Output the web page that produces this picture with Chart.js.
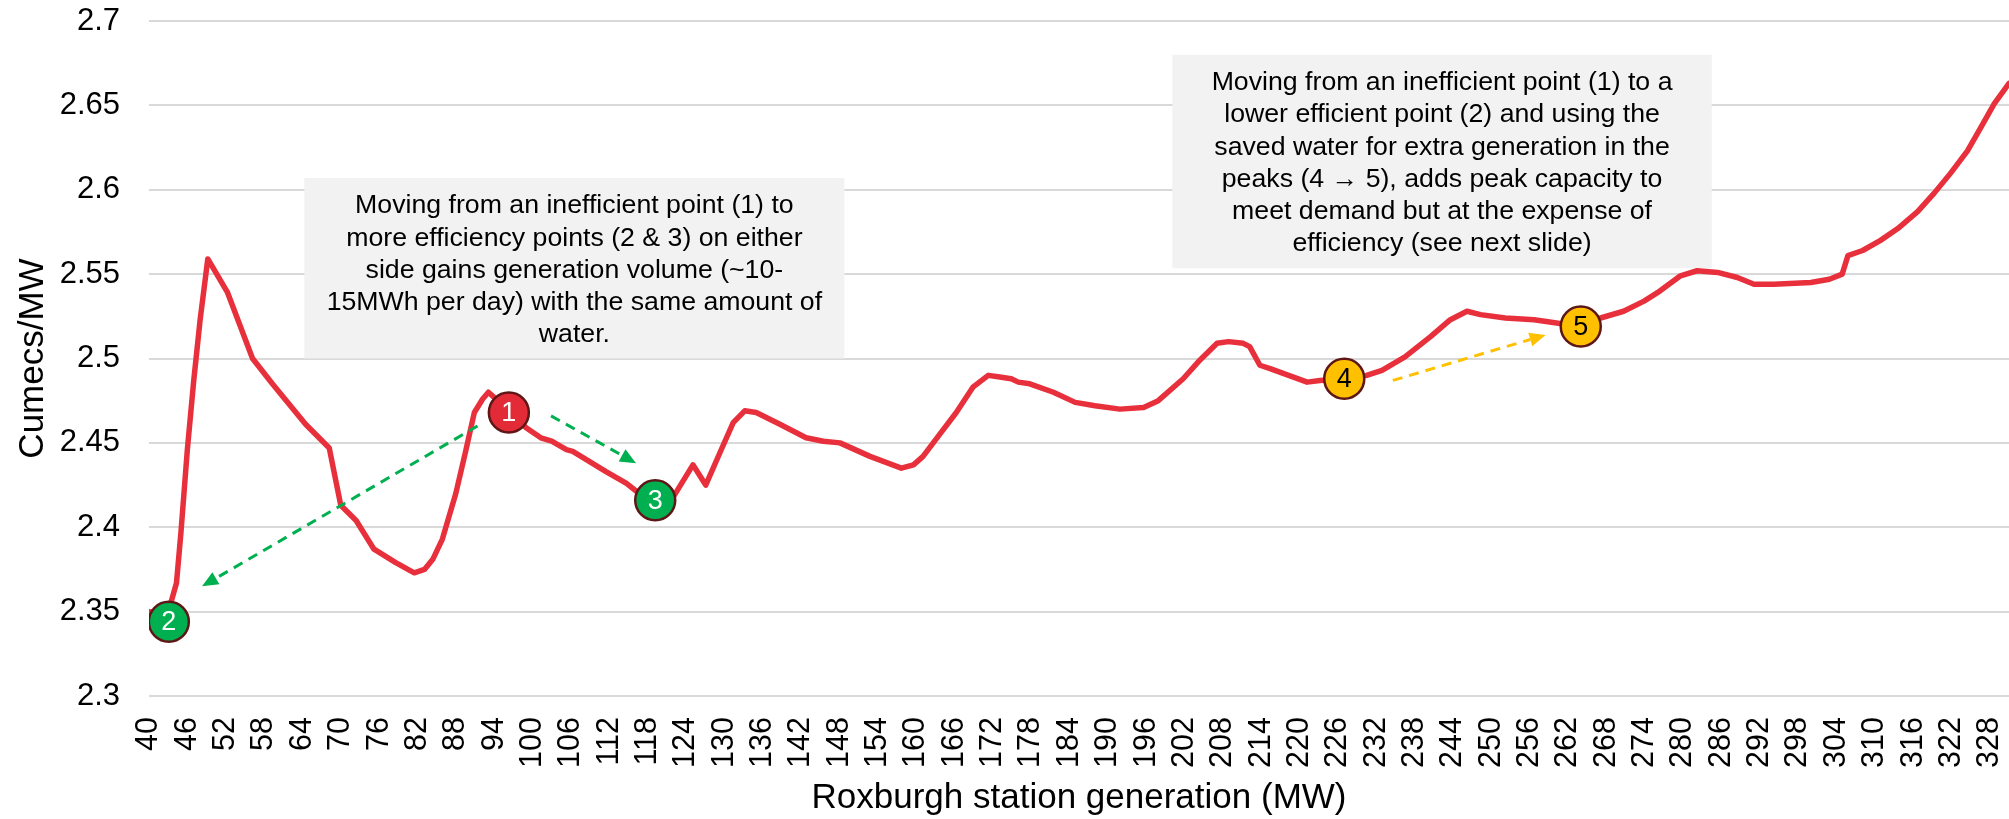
<!DOCTYPE html>
<html>
<head>
<meta charset="utf-8">
<script src="https://cdn.jsdelivr.net/npm/chart.js@4.4.1/dist/chart.umd.min.js"></script>
<style>
  html, body { margin: 0; padding: 0; background: #fff; overflow: hidden; }
  #myChart { display: block; }
</style>
</head>
<body>
<canvas id="myChart" width="2009" height="819"></canvas>
<script>
// curve (MW, cumecs per MW)
const generationMW = [
  40, 42, 43.4, 44.3, 45, 46, 47, 48, 49.2, 52.3, 56.2, 59.3, 64.5, 68.2, 70,
  72.4, 75.2, 78.6, 81.5, 83.1, 84.4, 85.9, 88, 89.6, 90.9, 92.2, 93.1, 94,
  96.3, 99, 101.3, 103, 105.3, 106.3, 111.5, 114.7, 116.7, 119.1, 122.2, 125.1,
  127.1, 129.3, 131.4, 133.2, 135, 138.7, 142.8, 145.5, 148.1, 152.8, 157.7,
  159.6, 161.1, 163.7, 166.3, 168.9, 171.3, 173.1, 174.9, 176, 177.8, 181.5,
  184.9, 188, 191.9, 195.6, 197.9, 201.8, 204.4, 207.1, 208.9, 211.2, 212.2,
  213.8, 215.4, 221.2, 223.2, 227, 230.5, 232.9, 236.5, 240.5, 243.6, 246.2,
  248.3, 252.2, 256.7, 264, 267.1, 270.7, 273.9, 276, 279.6, 282.2, 285.4,
  288.5, 291.1, 294.2, 300, 302.9, 304.9, 305.8, 308.1, 310.9, 313.6, 316.7,
  319.3, 321.9, 324.5, 326.6, 328.7, 331
];
const cumecsPerMW = [
  2.350, 2.349, 2.355, 2.367, 2.397, 2.446, 2.487, 2.523, 2.559, 2.539, 2.500, 2.485, 2.461, 2.447, 2.413,
  2.404, 2.387, 2.379, 2.373, 2.375, 2.381, 2.393, 2.420, 2.446, 2.468, 2.476, 2.480, 2.477,
  2.468, 2.459, 2.453, 2.451, 2.446, 2.445, 2.433, 2.426, 2.420, 2.416, 2.419, 2.437,
  2.425, 2.444, 2.462, 2.469, 2.468, 2.461, 2.453, 2.451, 2.450, 2.442, 2.435,
  2.437, 2.442, 2.455, 2.468, 2.483, 2.490, 2.489, 2.488, 2.486, 2.485, 2.480,
  2.474, 2.472, 2.470, 2.471, 2.475, 2.488, 2.499, 2.509, 2.510, 2.509, 2.507,
  2.496, 2.494, 2.486, 2.487, 2.488, 2.490, 2.493, 2.501, 2.513, 2.523, 2.528,
  2.526, 2.524, 2.523, 2.519, 2.524, 2.528, 2.534, 2.539, 2.549, 2.552, 2.551,
  2.548, 2.544, 2.544, 2.545, 2.547, 2.550, 2.561, 2.564, 2.570, 2.577, 2.587,
  2.598, 2.610, 2.623, 2.637, 2.651, 2.663
];

const xTickLabels = [40, 46, 52, 58, 64, 70, 76, 82, 88, 94, 100, 106, 112, 118, 124,
  130, 136, 142, 148, 154, 160, 166, 172, 178, 184, 190, 196, 202, 208, 214, 220,
  226, 232, 238, 244, 250, 256, 262, 268, 274, 280, 286, 292, 298, 304, 310, 316,
  322, 328];
const yTickLabels = [2.3, 2.35, 2.4, 2.45, 2.5, 2.55, 2.6, 2.65, 2.7];

// numbered points
const markerMW = [96.3, 43.1, 119.2, 227, 264];
const markerCumecs = [2.468, 2.344, 2.416, 2.488, 2.519];
const markerLabels = ["1", "2", "3", "4", "5"];
const markerFill = ["#e32b38", "#00b050", "#00b050", "#ffc000", "#ffc000"];
const markerText = ["#ffffff", "#ffffff", "#ffffff", "#000000", "#000000"];

// dashed arrows
const arrowFromMW = [91.4, 102.9, 234.6];
const arrowFromCumecs = [2.460, 2.466, 2.487];
const arrowToMW = [48.3, 116.2, 258.5];
const arrowToCumecs = [2.365, 2.438, 2.514];
const arrowColours = ["#00b050", "#00b050", "#ffc000"];

// text boxes (corners in chart units)
const noteLeftMW = [64.3, 200.1];
const noteRightMW = [148.8, 284.5];
const noteTopCumecs = [2.607, 2.680];
const noteBottomCumecs = [2.500, 2.5535];
const noteLines = [
  ["Moving from an inefficient point (1) to",
   "more efficiency points (2 & 3) on either",
   "side gains generation volume (~10-",
   "15MWh per day) with the same amount of",
   "water."],
  ["Moving from an inefficient point (1) to a",
   "lower efficient point (2) and using the",
   "saved water for extra generation in the",
   "peaks (4 \u2192 5), adds peak capacity to",
   "meet demand but at the expense of",
   "efficiency (see next slide)"]
];

const FONT = "'Liberation Sans', Arial, sans-serif";
Chart.defaults.font.family = FONT;
Chart.defaults.color = "#000";

const notesPlugin = {
  id: "notes",
  beforeDatasetsDraw(chart) {
    const { ctx, scales: { x, y } } = chart;
    ctx.save();
    noteLines.forEach((lines, i) => {
      const l = x.getPixelForValue(noteLeftMW[i]);
      const r = x.getPixelForValue(noteRightMW[i]);
      const t = y.getPixelForValue(noteTopCumecs[i]);
      const b = y.getPixelForValue(noteBottomCumecs[i]);
      ctx.fillStyle = "#f2f2f2";
      ctx.fillRect(l, t, r - l, b - t);
      ctx.fillStyle = "#000";
      ctx.font = "26.7px " + FONT;
      ctx.textAlign = "center";
      ctx.textBaseline = "middle";
      lines.forEach((s, k) => ctx.fillText(s, (l + r) / 2, t + 28 + k * 32.2));
    });
    ctx.restore();
  },
  afterDatasetsDraw(chart) {
    const { ctx, scales: { x, y } } = chart;
    ctx.save();
    arrowFromMW.forEach((_, i) => {
      const x1 = x.getPixelForValue(arrowFromMW[i]);
      const y1 = y.getPixelForValue(arrowFromCumecs[i]);
      const x2 = x.getPixelForValue(arrowToMW[i]);
      const y2 = y.getPixelForValue(arrowToCumecs[i]);
      const ang = Math.atan2(y2 - y1, x2 - x1);
      const head = 16;
      ctx.strokeStyle = arrowColours[i];
      ctx.fillStyle = arrowColours[i];
      ctx.lineWidth = 3;
      ctx.setLineDash([10, 7]);
      ctx.beginPath();
      ctx.moveTo(x1, y1);
      ctx.lineTo(x2 - head * Math.cos(ang), y2 - head * Math.sin(ang));
      ctx.stroke();
      ctx.setLineDash([]);
      ctx.beginPath();
      ctx.moveTo(x2, y2);
      ctx.lineTo(x2 - head * Math.cos(ang) + 7 * Math.sin(ang), y2 - head * Math.sin(ang) - 7 * Math.cos(ang));
      ctx.lineTo(x2 - head * Math.cos(ang) - 7 * Math.sin(ang), y2 - head * Math.sin(ang) + 7 * Math.cos(ang));
      ctx.closePath();
      ctx.fill();
    });
    // numbers inside the markers
    const meta = chart.getDatasetMeta(0);
    ctx.font = "27px " + FONT;
    ctx.textAlign = "center";
    ctx.textBaseline = "middle";
    meta.data.forEach((pt, i) => {
      ctx.fillStyle = markerText[i];
      ctx.fillText(markerLabels[i], pt.x, pt.y + 1);
    });
    ctx.restore();
  }
};

const ctx = document.getElementById("myChart");
new Chart(ctx, {
  type: "line",
  data: {
    datasets: [
      {
        label: "Points",
        data: markerMW.map((v, i) => ({ x: v, y: markerCumecs[i] })),
        showLine: false,
        pointRadius: 20,
        pointHoverRadius: 20,
        pointBackgroundColor: markerFill,
        pointBorderColor: "#5e1616",
        pointBorderWidth: 2.5,
      },
      {
        label: "Cumecs/MW",
        data: generationMW.map((v, i) => ({ x: v, y: cumecsPerMW[i] })),
        borderColor: "#e8303c",
        borderWidth: 5.5,
        borderJoinStyle: "round",
        borderCapStyle: "round",
        pointRadius: 0,
        tension: 0,
      },
    ],
  },
  options: {
    responsive: false,
    animation: false,
    layout: { autoPadding: false, padding: { top: 21, right: 0, left: 0, bottom: 0 } },
    plugins: { legend: { display: false }, tooltip: { enabled: false } },
    scales: {
      x: {
        type: "linear",
        min: 40,
        max: 331,
        afterBuildTicks: (s) => { s.ticks = xTickLabels.map((v) => ({ value: v })); },
        afterFit: (s) => { s.height = 123; s.paddingLeft = 0; s.paddingRight = 0; },
        grid: { display: false, drawTicks: false },
        border: { display: false },
        ticks: {
          autoSkip: false,
          minRotation: 90,
          maxRotation: 90,
          padding: 21,
          font: { size: 30.5 },
          callback: (v) => String(v),
        },
        title: {
          display: true,
          text: "Roxburgh station generation (MW)",
          font: { size: 35 },
          padding: { top: 0, bottom: 0 },
        },
      },
      y: {
        min: 2.3,
        max: 2.7,
        afterBuildTicks: (s) => { s.ticks = yTickLabels.map((v) => ({ value: v })); },
        afterFit: (s) => { s.width = 149; s.paddingTop = 0; s.paddingBottom = 0; },
        grid: { color: "#d9d9d9", lineWidth: 2, drawTicks: false },
        border: { display: false },
        ticks: {
          padding: 29,
          font: { size: 31 },
          callback: (v) => String(+v.toFixed(2)),
        },
        title: {
          display: true,
          text: "Cumecs/MW",
          font: { size: 35 },
          padding: { top: 12, bottom: 0 },
        },
      },
    },
  },
  plugins: [notesPlugin],
});
</script>
</body>
</html>
